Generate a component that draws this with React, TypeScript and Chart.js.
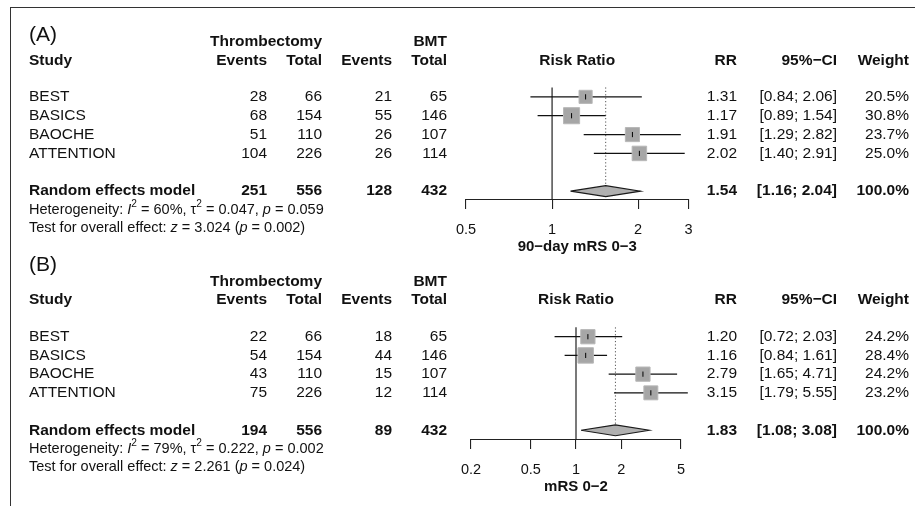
import React, { useEffect, useRef } from 'react';
import { Chart, registerables } from 'chart.js';

Chart.register(...registerables);

// ---------- data ----------
const studies = ['BEST', 'BASICS', 'BAOCHE', 'ATTENTION'];

// Panel A: 90-day mRS 0-3
const thrEventsA = [28, 68, 51, 104];
const thrTotalA = [66, 154, 110, 226];
const bmtEventsA = [21, 55, 26, 26];
const bmtTotalA = [65, 146, 107, 114];
const rrA = [1.31, 1.17, 1.91, 2.02];
const loA = [0.84, 0.89, 1.29, 1.4];
const hiA = [2.06, 1.54, 2.82, 2.91];
const weightA = [20.5, 30.8, 23.7, 25.0];
const sumCountsA = [251, 556, 128, 432];
const sumRRA = [1.54, 1.16, 2.04];
const hetA = ['60%', '0.047', '0.059'];
const testA = ['3.024', '0.002'];
const ticksA = [0.5, 1, 2, 3];

// Panel B: mRS 0-2
const thrEventsB = [22, 54, 43, 75];
const thrTotalB = [66, 154, 110, 226];
const bmtEventsB = [18, 44, 15, 12];
const bmtTotalB = [65, 146, 107, 114];
const rrB = [1.2, 1.16, 2.79, 3.15];
const loB = [0.72, 0.84, 1.65, 1.79];
const hiB = [2.03, 1.61, 4.71, 5.55];
const weightB = [24.2, 28.4, 24.2, 23.2];
const sumCountsB = [194, 556, 89, 432];
const sumRRB = [1.83, 1.08, 3.08];
const hetB = ['79%', '0.222', '0.002'];
const testB = ['2.261', '0.024'];
const ticksB = [0.2, 0.5, 1, 2, 5];

// ---------- layout / style ----------
const FAMILY = '"Liberation Sans", Arial, Helvetica, sans-serif';
const TEXT = '#111';
const BODY = 15.5;
const STAT = 14.5;
const COLS = { study: 29, thrEv: 267, thrTot: 322, bmtEv: 392, bmtTot: 447, rr: 737, ci: 837, w: 909 };

type Panel = {
  tag: string;
  thrEv: number[]; thrTot: number[]; bmtEv: number[]; bmtTot: number[];
  rr: number[]; lo: number[]; hi: number[]; w: number[];
  sumCounts: number[]; sumRR: number[]; het: string[]; test: string[];
  ticks: number[]; xTitle: string;
  canvasH: number; padTop: number; yMax: number; axisH: number; titlePad: number;
  axisLeft: number; axisRight: number;
  tagRow: number; groupRow: number; headRow: number;
};

const panelA: Panel = {
  tag: '(A)', thrEv: thrEventsA, thrTot: thrTotalA, bmtEv: bmtEventsA, bmtTot: bmtTotalA,
  rr: rrA, lo: loA, hi: hiA, w: weightA, sumCounts: sumCountsA, sumRR: sumRRA, het: hetA, test: testA,
  ticks: ticksA, xTitle: '90\u2212day mRS 0\u22123',
  canvasH: 256, padTop: 78, yMax: 6.47, axisH: 56, titlePad: 0, axisLeft: 466, axisRight: 688.5,
  tagRow: -2.27, groupRow: -1.91, headRow: -0.94,
};

const panelB: Panel = {
  tag: '(B)', thrEv: thrEventsB, thrTot: thrTotalB, bmtEv: bmtEventsB, bmtTot: bmtTotalB,
  rr: rrB, lo: loB, hi: hiB, w: weightB, sumCounts: sumCountsB, sumRR: sumRRB, het: hetB, test: testB,
  ticks: ticksB, xTitle: 'mRS 0\u22122',
  canvasH: 250, padTop: 62, yMax: 6.52, axisH: 66, titlePad: 10, axisLeft: 471, axisRight: 681,
  tagRow: -2.83, groupRow: -1.94, headRow: -1.0,
};

const SUM_ROW = 6;
const HET_ROW = 7.0;
const TEST_ROW = 7.95;

function f(size: number, bold = false, italic = false) {
  return `${italic ? 'italic ' : ''}${bold ? 'bold ' : ''}${size}px ${FAMILY}`;
}

function txt(ctx: CanvasRenderingContext2D, s: string, x: number, y: number, align: CanvasTextAlign, size: number, bold = false) {
  ctx.font = f(size, bold);
  ctx.textAlign = align;
  ctx.fillText(s, x, y);
}

type Seg = { t: string; it?: boolean; sup?: boolean };
function rich(ctx: CanvasRenderingContext2D, segs: Seg[], x: number, y: number, size: number) {
  ctx.textAlign = 'left';
  let cx = x;
  for (const s of segs) {
    const sz = s.sup ? size * 0.7 : size;
    ctx.font = f(sz, false, !!s.it);
    ctx.fillText(s.t, cx, s.sup ? y - size * 0.38 : y);
    cx += ctx.measureText(s.t).width;
  }
}

function tablePlugin(p: Panel) {
  return {
    id: 'forestTable',
    afterDraw(chart: any) {
      const ctx: CanvasRenderingContext2D = chart.ctx;
      const ys = chart.scales.y;
      const Y = (v: number) => ys.getPixelForValue(v);
      const area = chart.chartArea;
      const mid = (area.left + area.right) / 2;
      ctx.save();
      ctx.fillStyle = TEXT;
      ctx.textBaseline = 'middle';

      txt(ctx, p.tag, COLS.study, Y(p.tagRow), 'left', 21);
      txt(ctx, 'Thrombectomy', COLS.thrTot, Y(p.groupRow), 'right', BODY, true);
      txt(ctx, 'BMT', COLS.bmtTot, Y(p.groupRow), 'right', BODY, true);

      const hy = Y(p.headRow);
      txt(ctx, 'Study', COLS.study, hy, 'left', BODY, true);
      txt(ctx, 'Events', COLS.thrEv, hy, 'right', BODY, true);
      txt(ctx, 'Total', COLS.thrTot, hy, 'right', BODY, true);
      txt(ctx, 'Events', COLS.bmtEv, hy, 'right', BODY, true);
      txt(ctx, 'Total', COLS.bmtTot, hy, 'right', BODY, true);
      txt(ctx, 'Risk Ratio', mid, hy, 'center', BODY, true);
      txt(ctx, 'RR', COLS.rr, hy, 'right', BODY, true);
      txt(ctx, '95%\u2212CI', COLS.ci, hy, 'right', BODY, true);
      txt(ctx, 'Weight', COLS.w, hy, 'right', BODY, true);

      studies.forEach((name, i) => {
        const y = Y(i + 1);
        txt(ctx, name, COLS.study, y, 'left', BODY);
        txt(ctx, String(p.thrEv[i]), COLS.thrEv, y, 'right', BODY);
        txt(ctx, String(p.thrTot[i]), COLS.thrTot, y, 'right', BODY);
        txt(ctx, String(p.bmtEv[i]), COLS.bmtEv, y, 'right', BODY);
        txt(ctx, String(p.bmtTot[i]), COLS.bmtTot, y, 'right', BODY);
        txt(ctx, p.rr[i].toFixed(2), COLS.rr, y, 'right', BODY);
        txt(ctx, `[${p.lo[i].toFixed(2)}; ${p.hi[i].toFixed(2)}]`, COLS.ci, y, 'right', BODY);
        txt(ctx, `${p.w[i].toFixed(1)}%`, COLS.w, y, 'right', BODY);
      });

      const sy = Y(SUM_ROW);
      txt(ctx, 'Random effects model', COLS.study, sy, 'left', BODY, true);
      txt(ctx, String(p.sumCounts[0]), COLS.thrEv, sy, 'right', BODY, true);
      txt(ctx, String(p.sumCounts[1]), COLS.thrTot, sy, 'right', BODY, true);
      txt(ctx, String(p.sumCounts[2]), COLS.bmtEv, sy, 'right', BODY, true);
      txt(ctx, String(p.sumCounts[3]), COLS.bmtTot, sy, 'right', BODY, true);
      txt(ctx, p.sumRR[0].toFixed(2), COLS.rr, sy, 'right', BODY, true);
      txt(ctx, `[${p.sumRR[1].toFixed(2)}; ${p.sumRR[2].toFixed(2)}]`, COLS.ci, sy, 'right', BODY, true);
      const totalW = p.w.reduce((a, b) => a + b, 0);
      txt(ctx, `${Math.round(totalW).toFixed(1)}%`, COLS.w, sy, 'right', BODY, true);

      rich(ctx, [
        { t: 'Heterogeneity: ' }, { t: 'I', it: true }, { t: '2', sup: true },
        { t: ` = ${p.het[0]}, \u03c4` }, { t: '2', sup: true },
        { t: ` = ${p.het[1]}, ` }, { t: 'p', it: true }, { t: ` = ${p.het[2]}` },
      ], COLS.study, Y(HET_ROW), STAT);
      rich(ctx, [
        { t: 'Test for overall effect: ' }, { t: 'z', it: true }, { t: ` = ${p.test[0]} (` },
        { t: 'p', it: true }, { t: ` = ${p.test[1]})` },
      ], COLS.study, Y(TEST_ROW), STAT);
      ctx.restore();
    },
  };
}

function buildConfig(p: Panel): any {
  const rows = p.rr.map((_, i) => i + 1);
  const [sRR, sLo, sHi] = p.sumRR;
  const dh = 0.29;
  const datasets: any[] = [
    {
      data: p.rr.map((v, i) => ({ x: v, y: rows[i] })),
      pointStyle: 'line', rotation: 90, pointRadius: 2.6, borderColor: '#000', borderWidth: 1, order: 0,
    },
    {
      data: p.rr.map((v, i) => ({ x: v, y: rows[i] })),
      pointStyle: 'rect', pointRadius: p.w.map((w) => (2.9 * Math.sqrt(w)) / Math.SQRT2),
      backgroundColor: '#a6a6a6', borderColor: '#b8b8b8', borderWidth: 1, order: 1,
    },
    {
      showLine: true, fill: 'shape', tension: 0,
      data: [
        { x: sLo, y: SUM_ROW }, { x: sRR, y: SUM_ROW - dh }, { x: sHi, y: SUM_ROW },
        { x: sRR, y: SUM_ROW + dh }, { x: sLo, y: SUM_ROW },
      ],
      backgroundColor: '#b0b0b0', borderColor: '#1a1a1a', borderWidth: 1.1, pointRadius: 0, order: 1,
    },
    ...p.lo.map((lo, i) => ({
      showLine: true,
      data: [{ x: lo, y: rows[i] }, { x: p.hi[i], y: rows[i] }],
      borderColor: '#111', borderWidth: 1.2, pointRadius: 0, order: 2,
    })),
    {
      showLine: true,
      data: [{ x: sRR, y: 0.5 }, { x: sRR, y: SUM_ROW }],
      borderColor: '#555', borderWidth: 1, borderDash: [1.2, 2.2], pointRadius: 0, order: 3,
    },
    {
      showLine: true,
      data: [{ x: 1, y: 0.5 }, { x: 1, y: p.yMax }],
      borderColor: '#222', borderWidth: 1.2, pointRadius: 0, order: 4,
    },
  ];
  datasets.forEach((d) => { d.clip = false; });

  return {
    type: 'scatter',
    data: { datasets },
    options: {
      animation: false,
      responsive: false,
      events: [],
      layout: { padding: { left: p.axisLeft, right: 915 - p.axisRight, top: p.padTop, bottom: 0 } },
      plugins: { legend: { display: false }, tooltip: { enabled: false } },
      scales: {
        x: {
          type: 'logarithmic', min: p.ticks[0], max: p.ticks[p.ticks.length - 1], position: 'bottom',
          afterBuildTicks: (s: any) => { s.ticks = p.ticks.map((v) => ({ value: v })); },
          afterFit: (s: any) => { s.height = p.axisH; },
          ticks: {
            callback: (v: any) => String(v), autoSkip: false, maxRotation: 0, padding: 12,
            color: TEXT, font: { family: FAMILY, size: 14.5 },
          },
          grid: { drawOnChartArea: false, drawTicks: true, tickLength: 9, color: '#222', lineWidth: 1.1 },
          border: { display: true, color: '#222', width: 1.1 },
          title: {
            display: true, text: p.xTitle, color: TEXT,
            font: { family: FAMILY, size: 15, weight: 'bold' }, padding: { top: 0, bottom: p.titlePad },
          },
        },
        y: { type: 'linear', display: false, reverse: true, min: 0, max: p.yMax },
      },
    },
    plugins: [tablePlugin(p)],
  };
}

function ForestPanel({ panel }: { panel: Panel }) {
  const ref = useRef<HTMLCanvasElement>(null);
  useEffect(() => {
    const chart = new Chart(ref.current as HTMLCanvasElement, buildConfig(panel));
    return () => chart.destroy();
  }, [panel]);
  return (
    <canvas ref={ref} width={915} height={panel.canvasH}
      style={{ display: 'block', width: 915, height: panel.canvasH }} />
  );
}

export default function App() {
  useEffect(() => {
    document.body.style.margin = '0';
    document.body.style.background = '#fff';
  }, []);
  return (
    <div style={{ position: 'relative', width: 915, height: 506, overflow: 'hidden', background: '#fff' }}>
      <ForestPanel panel={panelA} />
      <ForestPanel panel={panelB} />
      <div style={{
        position: 'absolute', left: 10, top: 7, right: 0, bottom: 0,
        borderLeft: '1px solid #333', borderTop: '1px solid #333', pointerEvents: 'none',
      }} />
    </div>
  );
}
